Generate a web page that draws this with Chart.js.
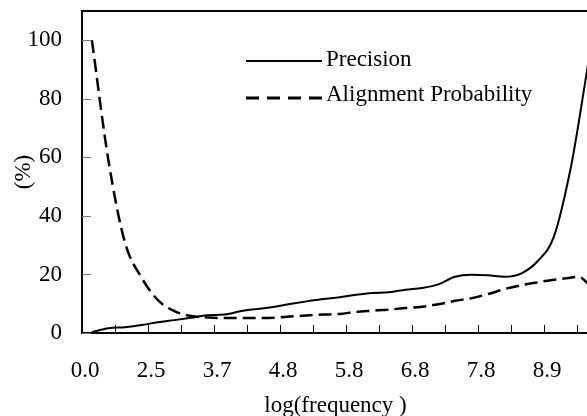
<!DOCTYPE html>
<html>
<head>
<meta charset="utf-8">
<script src="https://cdn.jsdelivr.net/npm/chart.js@4.4.0/dist/chart.umd.min.js"></script>
<style>
  html, body { margin: 0; padding: 0; background: #fff; overflow: hidden; }
  #wrap { width: 600px; height: 416px; }
</style>
</head>
<body>
<div id="wrap"><canvas id="myChart" width="600" height="416"></canvas></div>
<script>
  // positions along the category axis (1 = one tick mark)
  var xPositions = [0.3, 0.8, 1.3, 1.8, 2.3, 2.8, 3.3, 3.8, 4.3, 4.8, 5.3, 5.8, 6.3, 6.8, 7.3, 7.8,
                    8.3, 8.8, 9.3, 9.8, 10.3, 10.8, 11.3, 11.8, 12.3, 12.8, 13.3, 13.8, 14.3, 14.8, 15.05, 15.36];
  var precision = [0.3, 1.6, 2.0, 2.7, 3.7, 4.4, 5.2, 6.1, 6.3, 7.4, 8.2, 8.9, 9.9, 10.8, 11.6, 12.2,
                   13.1, 13.7, 13.9, 14.8, 15.4, 16.6, 19.2, 19.9, 19.7, 19.2, 20.3, 24.5, 33, 56, 72, 94];
  var alignProb = [100, 59, 31, 19, 11.2, 7.5, 5.8, 5.3, 5.1, 5.1, 5.1, 5.2, 5.6, 6.0, 6.3, 6.5,
                   7.2, 7.6, 8.0, 8.5, 9.0, 9.8, 11.0, 11.9, 13.3, 15.0, 16.3, 17.3, 18.2, 18.9, 19.2, 16.5];
  var tickLabels = ["0.0", "2.5", "3.7", "4.8", "5.8", "6.8", "7.8", "8.9"];

  var serif = "'Liberation Serif', 'Times New Roman', serif";

  function pts(vals) {
    return vals.map(function (v, i) { return { x: xPositions[i], y: v }; });
  }

  // tick marks pointing into the plot, plus the top frame line
  var innerTicks = {
    id: 'innerTicks',
    beforeDatasetsDraw: function (chart) {
      var ctx = chart.ctx, a = chart.chartArea;
      var xs = chart.scales.x, ys = chart.scales.y;
      ctx.save();
      ctx.lineWidth = 1;
      ctx.strokeStyle = '#000';
      xs.ticks.forEach(function (t, i) {
        var px = Math.round(xs.getPixelForTick(i)) + 0.5;
        ctx.beginPath(); ctx.moveTo(px, a.bottom); ctx.lineTo(px, a.bottom - 8); ctx.stroke();
      });
      ctx.strokeStyle = '#777';
      ys.ticks.forEach(function (t, i) {
        var py = Math.round(ys.getPixelForTick(i)) + 0.5;
        ctx.beginPath(); ctx.moveTo(a.left, py); ctx.lineTo(a.left + 9, py); ctx.stroke();
      });
      ctx.strokeStyle = '#000';
      ctx.lineWidth = 2;
      ctx.beginPath(); ctx.moveTo(a.left - 1, a.top); ctx.lineTo(a.right + 20, a.top); ctx.stroke();
      ctx.restore();
    }
  };

  // legend drawn inside the plot area
  var legendRows = [{ line: 61, text: 60 }, { line: 98, text: 95 }];
  var innerLegend = {
    id: 'innerLegend',
    afterDatasetsDraw: function (chart) {
      var ctx = chart.ctx;
      ctx.save();
      ctx.font = '23px ' + serif;
      ctx.fillStyle = '#000';
      ctx.textBaseline = 'middle';
      chart.data.datasets.forEach(function (ds, i) {
        var row = legendRows[i];
        ctx.strokeStyle = '#000';
        ctx.lineWidth = i === 0 ? 2 : 3;
        ctx.setLineDash(i === 0 ? [] : [13, 8]);
        ctx.beginPath(); ctx.moveTo(246, row.line); ctx.lineTo(322, row.line); ctx.stroke();
        ctx.setLineDash([]);
        ctx.fillText(ds.label, 326, row.text);
      });
      ctx.restore();
    }
  };

  new Chart(document.getElementById('myChart'), {
    type: 'line',
    data: {
      datasets: [{
        label: 'Precision',
        data: pts(precision),
        borderColor: '#000',
        borderWidth: 2,
        pointRadius: 0,
        cubicInterpolationMode: 'monotone'
      }, {
        label: 'Alignment Probability',
        data: pts(alignProb),
        borderColor: '#000',
        borderWidth: 2.5,
        borderDash: [13, 6],
        pointRadius: 0,
        cubicInterpolationMode: 'monotone'
      }]
    },
    options: {
      responsive: false,
      animation: false,
      layout: { padding: { left: 0, top: 11, right: 11, bottom: 0 } },
      plugins: { legend: { display: false }, tooltip: { enabled: false } },
      scales: {
        x: {
          type: 'linear',
          min: 0,
          max: 15.36,
          grid: { display: false, drawTicks: false },
          border: { color: '#000', width: 2 },
          ticks: {
            stepSize: 1,
            includeBounds: false,
            autoSkip: false,
            maxRotation: 0,
            padding: 24,
            labelOffset: 3,
            color: '#000',
            font: { family: serif, size: 23 },
            callback: function (v) { return v % 2 === 0 ? (tickLabels[v / 2] || '') : ''; }
          },
          title: {
            display: true,
            text: 'log(frequency )',
            color: '#000',
            font: { family: serif, size: 23, lineHeight: 0.9 },
            padding: { top: 0, bottom: 0 }
          },
          afterFit: function (s) { s.height = 83; s.paddingLeft = 0; s.paddingRight = 0; }
        },
        y: {
          min: 0,
          max: 110,
          grid: { display: false, drawTicks: false },
          border: { color: '#000', width: 2 },
          ticks: {
            stepSize: 20,
            includeBounds: false,
            padding: 20,
            color: '#000',
            font: { family: serif, size: 23 }
          },
          title: {
            display: true,
            text: '(%)',
            color: '#000',
            font: { family: serif, size: 23, lineHeight: 1.2 },
            padding: { top: 10, bottom: 0 }
          },
          afterFit: function (s) { s.width = 82; s.paddingTop = 0; s.paddingBottom = 0; }
        }
      }
    },
    plugins: [innerTicks, innerLegend]
  });
</script>
</body>
</html>
